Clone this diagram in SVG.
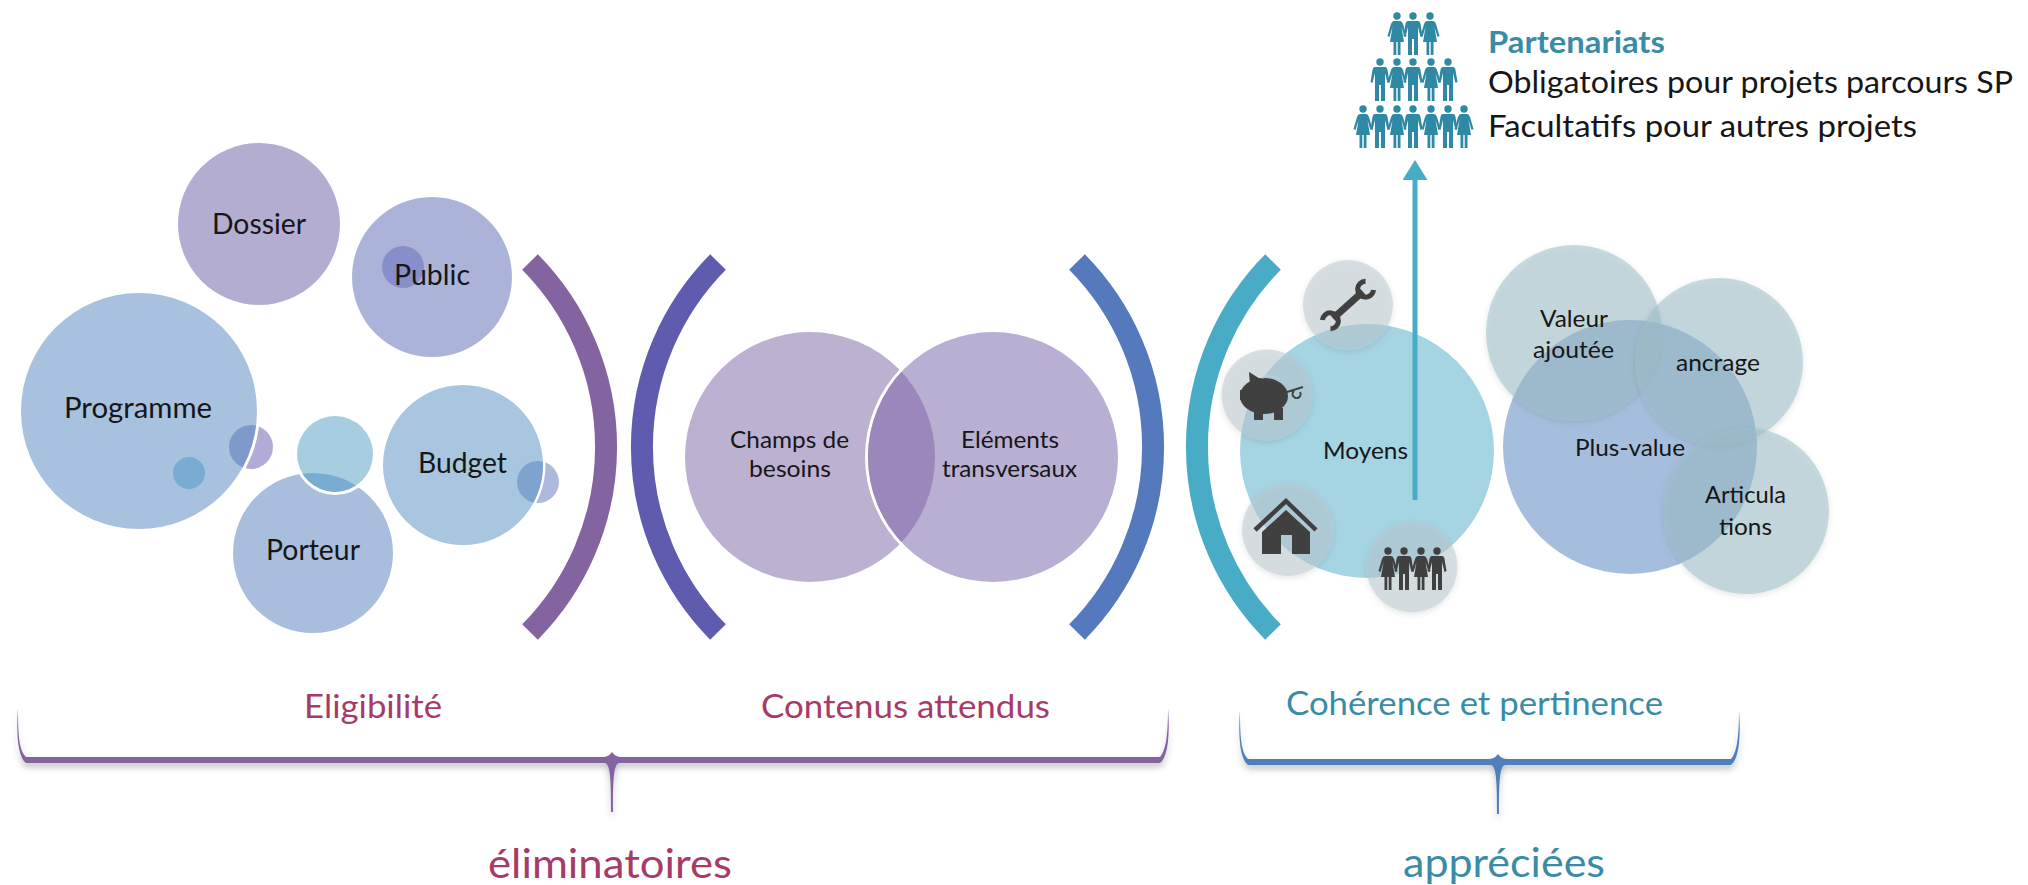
<svg xmlns="http://www.w3.org/2000/svg" xmlns:xlink="http://www.w3.org/1999/xlink" width="2028" height="885" viewBox="0 0 2028 885">
<style>
text{font-family:"Lato","Open Sans","Liberation Sans",sans-serif;fill:#161616;text-anchor:start}
.arc{fill:none;stroke-width:22;stroke-linecap:butt}
.ic{fill:#404040}
.soft{filter:url(#s)}
.tint{fill:#9BBDC6;fill-opacity:.55;filter:url(#s)}
.grey{fill:#B9C8CF;fill-opacity:.53;filter:url(#s)}
.mag{fill:#A83A68}
.tl{fill:#3A8CA6}
</style>
<defs>
<filter id="s" x="-20%" y="-20%" width="140%" height="140%"><feDropShadow dx="0" dy="2" stdDeviation="3" flood-color="#000" flood-opacity=".18"/></filter>
<filter id="b" x="-5%" y="-20%" width="110%" height="150%"><feDropShadow dx="0" dy="4" stdDeviation="3" flood-color="#000" flood-opacity=".25"/></filter>
<clipPath id="cProg"><circle cx="139" cy="411" r="118"/></clipPath>
<clipPath id="cBud"><circle cx="463" cy="465" r="80"/></clipPath>
<clipPath id="cPort"><circle cx="313" cy="553" r="80"/></clipPath>
<clipPath id="cChamps"><circle cx="810" cy="457" r="125"/></clipPath>
<marker id="ah" markerWidth="5" markerHeight="5" refX="1" refY="2.5" orient="auto"><path d="M0 0L4 2.5L0 5Z" fill="#49ACC6"/></marker>
<g id="man"><circle cx="0" cy="4" r="3.7"/><path d="M-5 9H5Q7 9 7.5 12L9.5 24L7.5 25L5 15V43H1V27H-1V43H-5V15L-7.5 25L-9.5 24L-7.5 12Q-7 9-5 9Z"/></g>
<g id="woman"><circle cx="0" cy="4" r="3.7"/><path d="M-3 9H3Q5 9 6 12L9.5 24L7.5 25L4.5 15L7 30H3.5V43H.7V30H-.7V43H-3.5V30H-7L-4.5 15L-7.5 25L-9.5 24L-6 12Q-5 9-3 9Z"/></g>
</defs>

<g id="connectors">
<path class="arc" stroke="#8464A0" d="M530 262A263 263 0 0 1 530 632"/>
<path class="arc" stroke="#5F5BAE" d="M718 262A263 263 0 0 0 718 632"/>
<path class="arc" stroke="#5479BC" d="M1077 262A263 263 0 0 1 1077 632"/>
<path class="arc" stroke="#49ACC6" d="M1273 262A263 263 0 0 0 1273 632"/>
<path filter="url(#b)" fill="#8464A0" d="M18 708C18 735 19 750 26 757H602C607 757 610 755 612 752C614 755 617 757 622 757H1160C1166 750 1168 735 1168 708C1170 735 1168 757 1160 763H620C614 763 613 775 613 812H611C611 775 610 763 604 763H26C18 757 16 735 18 708Z"/>
<path filter="url(#b)" fill="#5080BC" d="M1240 710C1240 737 1241 752 1248 759H1488C1493 759 1496 757 1498 754C1500 757 1503 759 1508 759H1731C1737 752 1739 737 1739 710C1741 737 1739 759 1731 765H1506C1500 765 1499 777 1499 814H1497C1497 777 1496 765 1490 765H1248C1240 759 1238 737 1240 710Z"/>
</g>

<g id="dossier"><circle cx="259" cy="224" r="81" fill="#B4ADD2"/><text x="212" y="234" font-size="28" textLength="94" lengthAdjust="spacingAndGlyphs">Dossier</text></g>
<g id="public"><circle cx="432" cy="277" r="80" fill="#ABB4D8"/><circle cx="403" cy="267" r="21" fill="#868FC9"/><text x="394" y="285" font-size="28" textLength="76" lengthAdjust="spacingAndGlyphs">Public</text></g>
<g id="programme"><circle cx="251" cy="447" r="22" fill="#B3ABD7"/><circle cx="139" cy="411" r="118" fill="#A7C1DE" stroke="#fff" stroke-width="6" paint-order="stroke"/><circle cx="251" cy="447" r="22" fill="#7F99CB" clip-path="url(#cProg)"/><circle cx="189" cy="473" r="16" fill="#79ACD1"/><text x="64" y="418" font-size="28" textLength="148" lengthAdjust="spacingAndGlyphs">Programme</text></g>
<g id="porteur"><circle cx="313" cy="553" r="80" fill="#A9BEDD"/><text x="266" y="560" font-size="28" textLength="94" lengthAdjust="spacingAndGlyphs">Porteur</text></g>
<g id="cercle-clair"><circle cx="335" cy="454" r="38" fill="#A6CDE0" stroke="#fff" stroke-width="6" paint-order="stroke"/><circle cx="335" cy="454" r="38" fill="#79ACD1" clip-path="url(#cPort)"/></g>
<g id="budget"><circle cx="538" cy="482" r="21" fill="#ADBADD"/><circle cx="463" cy="465" r="80" fill="#A8C6DF" stroke="#fff" stroke-width="5" paint-order="stroke"/><circle cx="538" cy="482" r="21" fill="#7FA3CF" clip-path="url(#cBud)"/><text x="418" y="473" font-size="28" textLength="89" lengthAdjust="spacingAndGlyphs">Budget</text></g>

<g id="champs"><circle cx="810" cy="457" r="125" fill="#BDB1D2"/></g>
<g id="elements"><circle cx="993" cy="457" r="125" fill="#B9AFD2" stroke="#fff" stroke-width="6" paint-order="stroke"/><circle cx="993" cy="457" r="125" fill="#9B87BB" clip-path="url(#cChamps)"/></g>
<g id="venn-labels"><text x="730" y="448" font-size="23" textLength="119" lengthAdjust="spacingAndGlyphs">Champs de</text><text x="749" y="477" font-size="23" textLength="82" lengthAdjust="spacingAndGlyphs">besoins</text><text x="961" y="448" font-size="23" textLength="98" lengthAdjust="spacingAndGlyphs">Eléments</text><text x="942" y="477" font-size="23" textLength="135" lengthAdjust="spacingAndGlyphs">transversaux</text></g>

<g id="moyens"><circle cx="1367" cy="451" r="127" fill="#A5D4E3"/><text x="1323" y="459" font-size="23" textLength="85" lengthAdjust="spacingAndGlyphs">Moyens</text></g>
<g id="outil"><circle class="grey" cx="1348" cy="305" r="45"/><g transform="translate(1348 305) rotate(-42)"><path d="M-20 0H20" stroke="#404040" stroke-width="7"/><path d="M29-6A8 8 0 1 0 29 6M-29-6A8 8 0 1 1-29 6" fill="none" stroke="#404040" stroke-width="5"/></g></g>
<g id="tirelire"><circle class="grey" cx="1267" cy="395" r="45.5"/><g class="ic"><ellipse cx="1264" cy="396" rx="24" ry="18"/><path d="M1249 372L1262 380L1250 386ZM1240 390H1246V400H1240ZM1254 408H1263V420H1254ZM1274 408H1283V420H1274Z"/></g><path d="M1262 378Q1271 373 1280 379" fill="none" stroke="#B0CEDC" stroke-width="2"/><path d="M1287 392L1303 387M1294 391A4 4 0 1 0 1300 392" fill="none" stroke="#404040" stroke-width="2"/></g>
<g id="maison"><circle class="grey" cx="1288" cy="530" r="46"/><path d="M1255 530L1286 501L1316 530" fill="none" stroke="#404040" stroke-width="4.5"/><path class="ic" d="M1286 510L1310 532V554H1292V535H1281V554H1262V532Z"/></g>
<g id="equipe"><circle class="grey" cx="1412" cy="567" r="45.5"/><g fill="#404040"><use href="#woman" transform="translate(1388 547)"/><use href="#man" transform="translate(1404 547)"/><use href="#woman" transform="translate(1421 547)"/><use href="#man" transform="translate(1437 547)"/></g></g>

<g id="plus-value"><circle cx="1630" cy="447" r="127" fill="#A6BEDD"/><text x="1575" y="456" font-size="23" textLength="110" lengthAdjust="spacingAndGlyphs">Plus-value</text></g>
<g id="valeur"><circle class="tint" cx="1574" cy="333" r="88"/><text x="1540" y="327" font-size="23" textLength="68" lengthAdjust="spacingAndGlyphs">Valeur</text><text x="1533" y="358" font-size="23" textLength="81" lengthAdjust="spacingAndGlyphs">ajoutée</text></g>
<g id="ancrage"><circle class="tint" cx="1719" cy="362" r="84"/><text x="1676" y="371" font-size="23" textLength="84" lengthAdjust="spacingAndGlyphs">ancrage</text></g>
<g id="articulations"><circle class="tint" cx="1746" cy="511" r="83"/><text x="1705" y="503" font-size="23" textLength="81" lengthAdjust="spacingAndGlyphs">Articula</text><text x="1719" y="535" font-size="23" textLength="53" lengthAdjust="spacingAndGlyphs">tions</text></g>

<g id="fleche"><path d="M1415 500V175" fill="none" stroke="#49ACC6" stroke-width="5" marker-end="url(#ah)"/></g>

<g id="partenariats">
<g fill="#2F88A4">
<use href="#woman" transform="translate(1397 12)"/><use href="#man" transform="translate(1413 12)"/><use href="#woman" transform="translate(1430 12)"/>
<use href="#man" transform="translate(1380 58)"/><use href="#woman" transform="translate(1397 58)"/><use href="#man" transform="translate(1413 58)"/><use href="#woman" transform="translate(1431 58)"/><use href="#man" transform="translate(1448 58)"/>
<use href="#woman" transform="translate(1363 105)"/><use href="#man" transform="translate(1380 105)"/><use href="#woman" transform="translate(1397 105)"/><use href="#man" transform="translate(1413 105)"/><use href="#woman" transform="translate(1431 105)"/><use href="#man" transform="translate(1448 105)"/><use href="#woman" transform="translate(1464 105)"/>
</g>
<text class="tl" x="1488" y="53" font-size="30" font-weight="700" textLength="177" lengthAdjust="spacingAndGlyphs">Partenariats</text>
<text x="1488" y="93" font-size="31" textLength="525" lengthAdjust="spacingAndGlyphs">Obligatoires pour projets parcours SP</text>
<text x="1488" y="137" font-size="31" textLength="429" lengthAdjust="spacingAndGlyphs">Facultatifs pour autres projets</text>
</g>

<g id="etiquettes">
<text class="mag" x="304" y="718" font-size="33" textLength="138" lengthAdjust="spacingAndGlyphs">Eligibilité</text>
<text class="mag" x="761" y="718" font-size="33" textLength="289" lengthAdjust="spacingAndGlyphs">Contenus attendus</text>
<text class="tl" x="1286" y="715" font-size="33" textLength="377" lengthAdjust="spacingAndGlyphs">Cohérence et pertinence</text>
<text class="mag" x="488" y="878" font-size="40" textLength="244" lengthAdjust="spacingAndGlyphs">éliminatoires</text>
<text class="tl" x="1403" y="877" font-size="40" textLength="202" lengthAdjust="spacingAndGlyphs">appréciées</text>
</g>
</svg>
